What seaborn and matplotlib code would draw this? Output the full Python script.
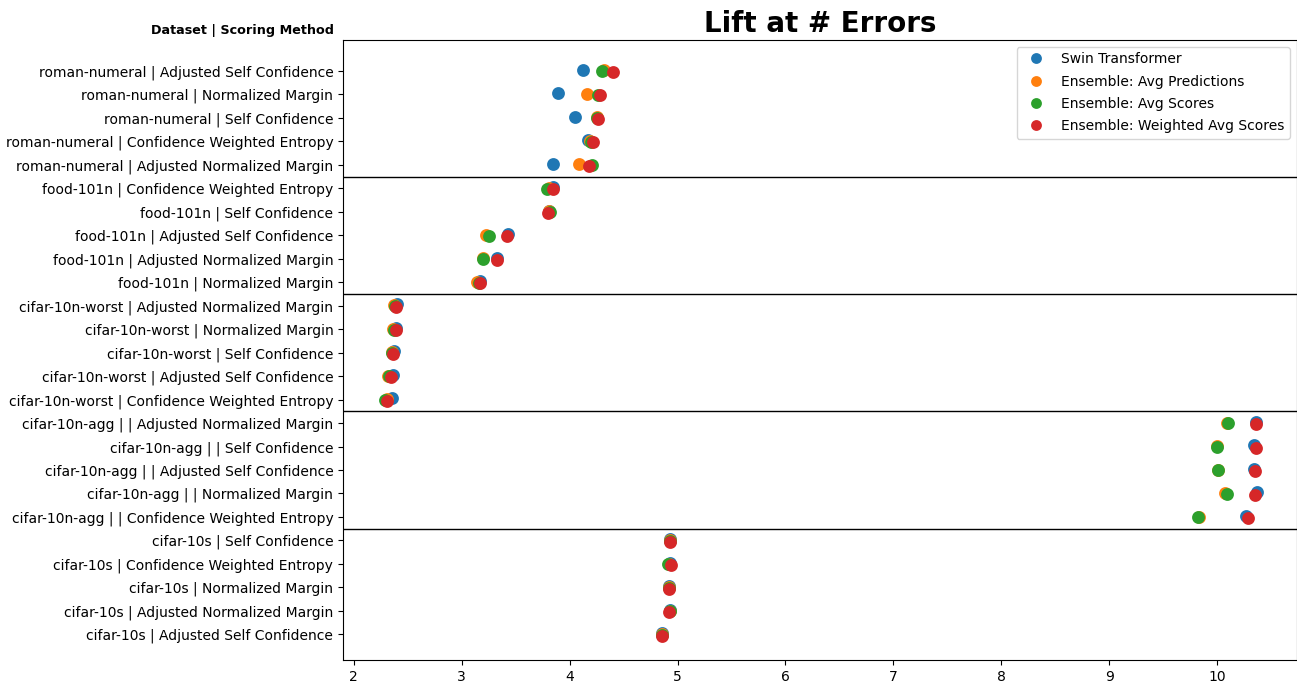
import matplotlib
matplotlib.use("Agg")
import matplotlib.pyplot as plt
import seaborn as sns
import pandas as pd

labels = [
    "roman-numeral | Adjusted Self Confidence",
    "roman-numeral | Normalized Margin",
    "roman-numeral | Self Confidence",
    "roman-numeral | Confidence Weighted Entropy",
    "roman-numeral | Adjusted Normalized Margin",
    "food-101n | Confidence Weighted Entropy",
    "food-101n | Self Confidence",
    "food-101n | Adjusted Self Confidence",
    "food-101n | Adjusted Normalized Margin",
    "food-101n | Normalized Margin",
    "cifar-10n-worst | Adjusted Normalized Margin",
    "cifar-10n-worst | Normalized Margin",
    "cifar-10n-worst | Self Confidence",
    "cifar-10n-worst | Adjusted Self Confidence",
    "cifar-10n-worst | Confidence Weighted Entropy",
    "cifar-10n-agg | | Adjusted Normalized Margin",
    "cifar-10n-agg | | Self Confidence",
    "cifar-10n-agg | | Adjusted Self Confidence",
    "cifar-10n-agg | | Normalized Margin",
    "cifar-10n-agg | | Confidence Weighted Entropy",
    "cifar-10s | Self Confidence",
    "cifar-10s | Confidence Weighted Entropy",
    "cifar-10s | Normalized Margin",
    "cifar-10s | Adjusted Normalized Margin",
    "cifar-10s | Adjusted Self Confidence",
]

models = ["Swin Transformer", "Ensemble: Avg Predictions",
          "Ensemble: Avg Scores", "Ensemble: Weighted Avg Scores"]

swin = [4.12, 3.89, 4.05, 4.17, 3.85,
        3.85, 3.81, 3.43, 3.33, 3.17,
        2.40, 2.39, 2.37, 2.36, 2.35,
        10.36, 10.34, 10.34, 10.37, 10.27,
        4.93, 4.93, 4.92, 4.93, 4.86]
avg_pred = [4.32, 4.16, 4.25, 4.19, 4.09,
            3.81, 3.81, 3.22, 3.20, 3.14,
            2.37, 2.36, 2.35, 2.32, 2.31,
            10.09, 10.00, 10.01, 10.07, 9.83,
            4.93, 4.92, 4.92, 4.93, 4.86]
avg_scores = [4.30, 4.26, 4.25, 4.20, 4.21,
              3.79, 3.82, 3.25, 3.20, 3.16,
              2.38, 2.37, 2.35, 2.33, 2.29,
              10.10, 10.00, 10.01, 10.09, 9.82,
              4.93, 4.91, 4.92, 4.93, 4.86]
weighted = [4.40, 4.28, 4.26, 4.22, 4.18,
            3.85, 3.80, 3.42, 3.33, 3.17,
            2.39, 2.39, 2.36, 2.34, 2.31,
            10.36, 10.36, 10.35, 10.35, 10.29,
            4.93, 4.94, 4.92, 4.92, 4.86]

series = [swin, avg_pred, avg_scores, weighted]
rows = []
for m, vals in zip(models, series):
    for lab, v in zip(labels, vals):
        rows.append({"label": lab, "model": m, "lift": v})
df = pd.DataFrame(rows)

fig = plt.figure(figsize=(12.97, 6.87), dpi=100)
ax = fig.add_axes([0.2645, 0.039, 0.7355, 0.903])

sns.pointplot(data=df, x="lift", y="label", hue="model", order=labels,
              hue_order=models, palette="tab10", dodge=True,
              linestyle="none", markers="o", markersize=7.2, errorbar=None, ax=ax)

for b in [4.5, 9.5, 14.5, 19.5]:
    ax.axhline(b, color="black", linewidth=1)

ax.set_ylim(25.1, -1.32)
ax.set_xlim(1.9, 10.74)
ax.set_xticks([2, 3, 4, 5, 6, 7, 8, 9, 10])
ax.tick_params(axis="both", labelsize=10)
ax.set_xlabel("")
ax.set_ylabel("Dataset | Scoring Method", fontsize=9.2, fontweight="bold",
              rotation=0, ha="right", va="bottom")
ax.yaxis.set_label_coords(-0.01, 1.005)
ax.set_title("Lift at # Errors", fontsize=20, fontweight="bold")

leg = ax.legend(loc="upper right", fontsize=10, frameon=True,
                markerscale=0.8, labelspacing=0.6)

fig.savefig("out.png", dpi=100)
